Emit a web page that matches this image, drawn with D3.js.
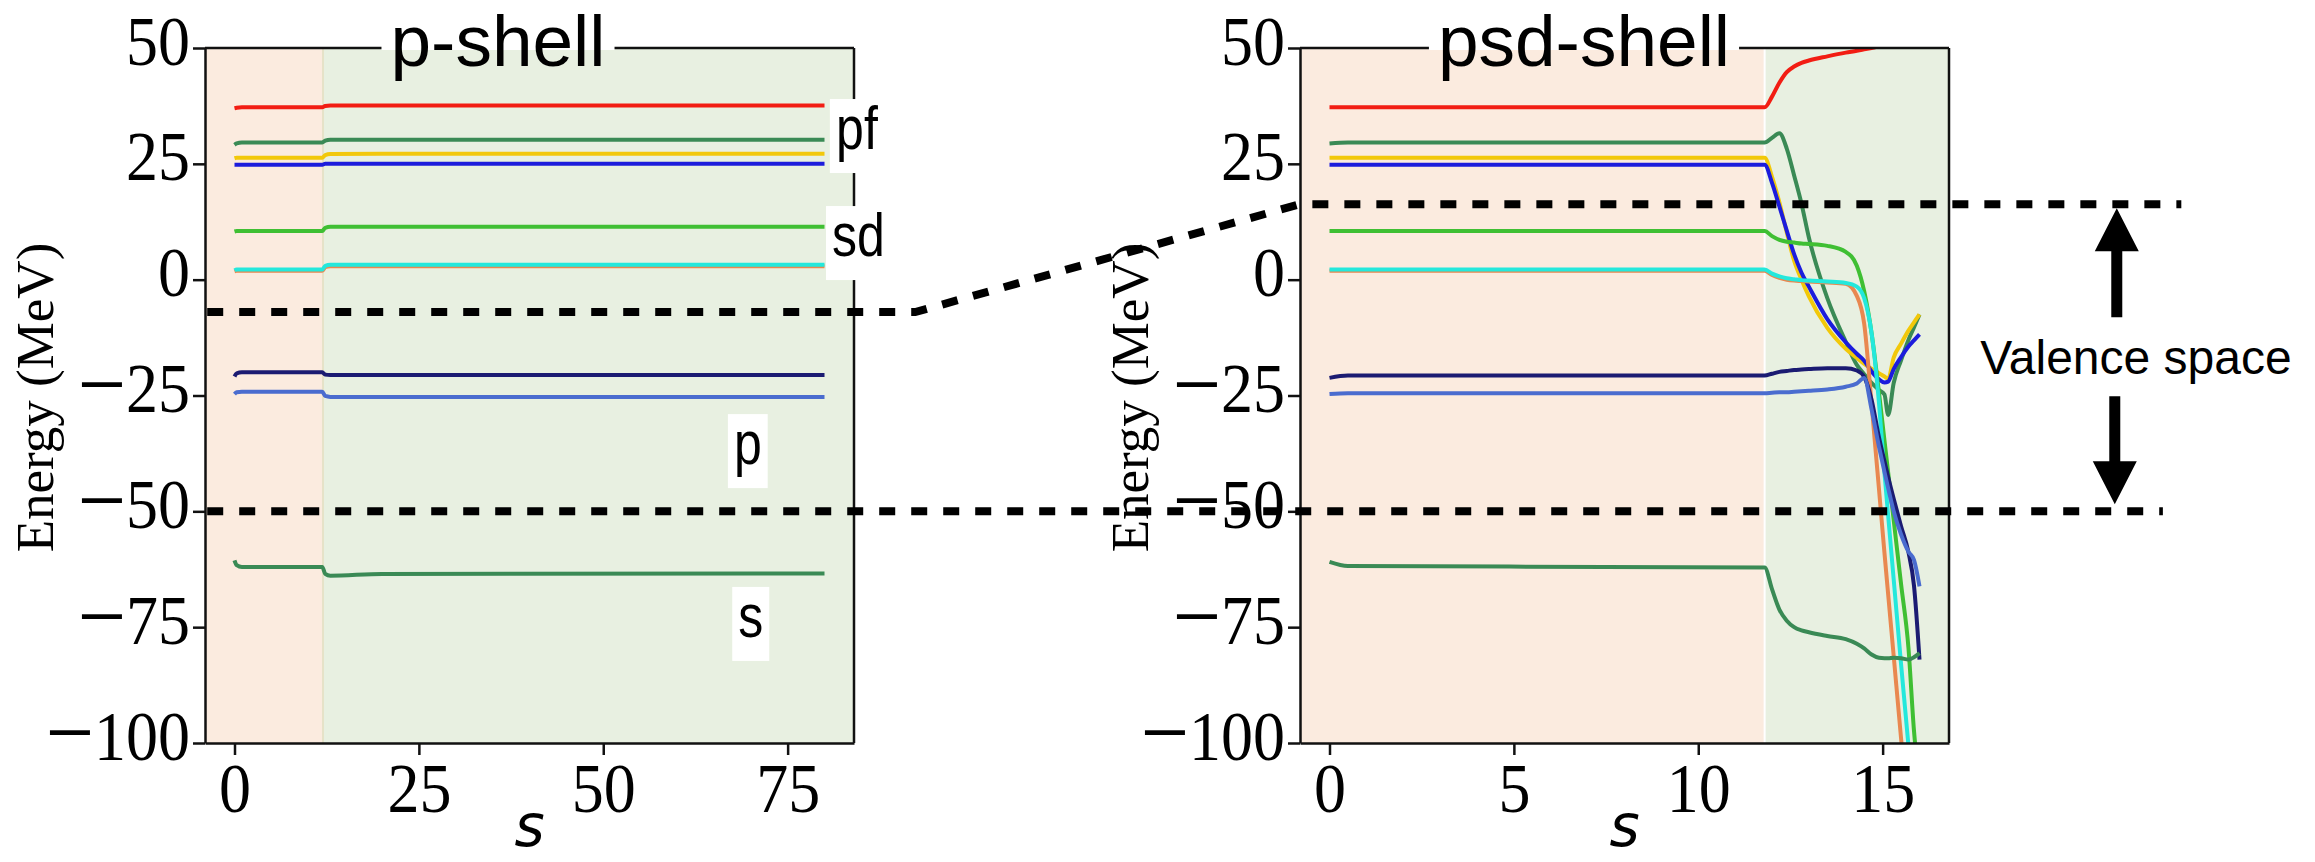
<!DOCTYPE html>
<html>
<head>
<meta charset="utf-8">
<script src="https://cdn.jsdelivr.net/npm/d3@7"></script>
<style>
  body { margin: 0; background: #fff; }
</style>
</head>
<body>
<svg id="chart" width="2315" height="862"></svg>
<script>
// ---- p-shell run: flow parameter s and single-particle energies (MeV)
var pS       = [0, 0.3, 1, 11.9, 12.3, 13, 20, 80];
var pRed     = [37.0, 37.1, 37.2, 37.2, 37.5, 37.6, 37.6, 37.6];
var pGreenHi = [29.1, 29.4, 29.6, 29.6, 30.0, 30.2, 30.2, 30.2];
var pGold    = [26.2, 26.3, 26.3, 26.3, 26.9, 27.1, 27.2, 27.2];
var pBlue    = [24.8, 24.8, 24.8, 24.8, 25.0, 25.0, 25.0, 25.0];
var pLime    = [10.4, 10.5, 10.5, 10.5, 11.2, 11.4, 11.4, 11.4];
var pOrange  = [1.8, 1.9, 1.9, 1.9, 2.7, 2.9, 2.9, 2.9];
var pCyan    = [2.0, 2.2, 2.2, 2.2, 3.0, 3.2, 3.2, 3.2];
var pNavy    = [-20.9, -20.2, -20.0, -20.0, -20.5, -20.6, -20.6, -20.6];
var pRoyal   = [-24.7, -24.3, -24.2, -24.2, -25.1, -25.3, -25.3, -25.3];
var pGreenLo = [-60.6, -61.6, -62.0, -62.0, -63.5, -63.9, -63.5, -63.4];

// ---- psd-shell run
var psdS       = [0, 0.5, 11.8, 12.0, 12.2, 12.4, 12.6, 12.8, 13.0, 13.5, 14.0, 14.3, 14.5, 14.7, 14.9, 15.05, 15.15, 15.3, 15.5, 15.7, 15.85, 16.0];
var psdRed     = [37.2, 37.2, 37.2, 39.5, 42.5, 44.8, 46.0, 46.8, 47.3, 48.2, 49.0, 49.4, 49.7, 50.0, 50.3, 50.5, 50.6, 50.8, 51.1, 51.3, 51.5, 51.7];
var psdGreenHi = [29.4, 29.6, 29.6, 30.6, 31.6, 28.3, 22.5, 16.4, 9.1, -4.0, -13.4, -18.4, -20.4, -22.3, -23.8, -24.8, -29.2, -22.3, -17.4, -13.0, -10.3, -7.5];
var psdGold    = [26.3, 26.3, 26.3, 22.2, 16.7, 10.2, 4.1, 0.0, -3.6, -10.4, -14.9, -16.9, -18.2, -19.2, -20.2, -20.9, -21.4, -16.8, -13.8, -11.0, -9.2, -7.5];
var psdBlue    = [24.8, 24.8, 24.8, 20.9, 15.8, 10.6, 5.5, 1.5, -1.5, -8.5, -13.5, -16.0, -17.5, -19.8, -21.5, -22.2, -22.0, -19.3, -16.7, -14.4, -13.1, -11.8];
var psdLime    = [10.5, 10.5, 10.5, 9.4, 8.6, 8.2, 8.0, 7.8, 7.7, 7.3, 6.0, 3.0, -2.5, -11.5, -24.3, -34.7, -41.6, -51.9, -65.7, -79.4, -97.3, -109];
var psdOrange  = [1.9, 1.9, 1.9, 1.0, 0.4, 0.0, -0.2, -0.3, -0.4, -0.6, -0.9, -3.5, -9.5, -26.8, -45.1, -59.0, -67.9, -81.2, -99.0, -116, -130, -143];
var psdCyan    = [2.2, 2.2, 2.2, 1.3, 0.7, 0.3, 0.1, -0.1, -0.2, -0.4, -0.7, -1.5, -4.0, -11.5, -26.5, -41.7, -50.9, -64.7, -83.0, -100.5, -114, -128];
var psdNavy    = [-21.2, -20.7, -20.7, -20.3, -19.9, -19.7, -19.5, -19.4, -19.3, -19.1, -19.1, -19.6, -21.0, -25.9, -34.0, -39.2, -42.6, -47.3, -53.2, -58.8, -66.0, -82.0];
var psdRoyal   = [-24.7, -24.5, -24.5, -24.4, -24.3, -24.3, -24.2, -24.1, -24.0, -23.7, -23.1, -22.4, -21.2, -28.0, -36.0, -41.5, -45.0, -50.0, -55.0, -58.7, -60.5, -66.2];
var psdGreenLo = [-60.9, -61.8, -62.1, -66.8, -71.2, -73.6, -75.0, -75.7, -76.1, -76.9, -77.6, -78.6, -79.6, -80.9, -81.6, -81.7, -81.7, -81.6, -81.7, -82.0, -81.5, -80.6];

// ticks and region splits
var energyTicks = [-100, -75, -50, -25, 0, 25, 50];
var pTicks = [0, 25, 50, 75];
var psdTicks = [0, 5, 10, 15];
var pSplit = 12.0;
var psdSplit = 11.8;

// valence-space cut energies
var cutHighP = -7.0;
var cutHighPsd = 16.3;
var cutLow = -50;

// shell labels on the p-shell panel: [text, s, energy]
var shellLabels = [["pf", 84.4, 31.0], ["sd", 84.6, 7.9], ["p", 69.6, -37.0], ["s", 70.0, -74.3]];

var lineColors = ["#f21d13", "#3a8a55", "#f2c80a", "#1c1cdc", "#3fbf33",
                  "#e98850", "#24e8dc", "#1b1b72", "#4a6ccf", "#3a8a55"];

var serif = "'Liberation Serif', 'Times New Roman', serif";
var sans = "'Liberation Sans', Arial, sans-serif";

var svg = d3.select("svg#chart");
var y = d3.scaleLinear().domain([-100, 50]).range([743, 48]);

function drawPanel(opt) {
  var x = d3.scaleLinear().domain(opt.domain).range([opt.left, opt.right]);
  var g = svg.append("g");

  svg.append("clipPath").attr("id", "clip-" + opt.id)
    .append("rect")
      .attr("x", opt.left).attr("y", y(50))
      .attr("width", opt.right - opt.left).attr("height", y(-100) - y(50));

  var plot = g.append("g").attr("clip-path", "url(#clip-" + opt.id + ")");

  plot.append("rect")
      .attr("x", x(opt.domain[0])).attr("y", y(50))
      .attr("width", x(opt.split) - x(opt.domain[0])).attr("height", y(-100) - y(50))
      .attr("fill", "#fbebdf");
  plot.append("rect")
      .attr("x", x(opt.split)).attr("y", y(50))
      .attr("width", x(opt.domain[1]) - x(opt.split)).attr("height", y(-100) - y(50))
      .attr("fill", "#e8f0e1");
  plot.append("line")
      .attr("x1", x(opt.split)).attr("x2", x(opt.split))
      .attr("y1", y(50)).attr("y2", y(-100))
      .attr("stroke", opt.splitColor).attr("stroke-width", 2);

  var line = d3.line()
      .x(function(d) { return x(d[0]); })
      .y(function(d) { return y(d[1]); })
      .curve(d3.curveMonotoneX);

  opt.series.forEach(function(vals, i) {
    plot.append("path")
        .datum(opt.s.map(function(s, j) { return [s, vals[j]]; }))
        .attr("fill", "none")
        .attr("stroke", lineColors[i])
        .attr("stroke-width", 4)
        .attr("stroke-linejoin", "round")
        .attr("d", line);
  });

  // axes
  var xAxis = g.append("g")
      .attr("transform", "translate(0," + y(-100) + ")")
      .call(d3.axisBottom(x).tickValues(opt.ticks).tickSize(12).tickSizeOuter(0));
  var yAxis = g.append("g")
      .attr("transform", "translate(" + opt.left + ",0)")
      .call(d3.axisLeft(y).tickValues(energyTicks).tickSize(12).tickSizeOuter(0));

  [xAxis, yAxis].forEach(function(a) {
    a.select(".domain").attr("stroke", "#111").attr("stroke-width", 2.5);
    a.selectAll(".tick line").attr("stroke", "#111").attr("stroke-width", 2.5);
    a.selectAll(".tick text")
        .attr("fill", "#000")
        .style("font-family", serif)
        .style("font-size", "64px");
  });
  // tall, narrow tick numbers as in the original figure
  xAxis.selectAll(".tick text")
      .attr("y", null).attr("dy", null)
      .attr("transform", "translate(0,69) scale(1,1.1)");
  yAxis.selectAll(".tick text")
      .attr("x", null).attr("dy", null)
      .attr("transform", "translate(-15,16) scale(1,1.1)")
      .each(function(d) {
        var t = d3.select(this).text(null);
        if (d < 0) {
          // long thin minus sign, lowered to the middle of the digits
          t.append("tspan").style("font-size", "86px").attr("dy", 4).text("\u2212");
          t.append("tspan").attr("dy", -4).text(Math.abs(d));
        } else {
          t.append("tspan").text(d);
        }
      });

  // top and right spines
  g.append("line")
      .attr("x1", opt.left).attr("x2", opt.right).attr("y1", y(50)).attr("y2", y(50))
      .attr("stroke", "#111").attr("stroke-width", 2.5);
  g.append("line")
      .attr("x1", opt.right).attr("x2", opt.right).attr("y1", y(50)).attr("y2", y(-100))
      .attr("stroke", "#111").attr("stroke-width", 2.5);

  // axis titles
  g.append("text")
      .attr("transform", "translate(" + (opt.left - 152) + "," + ((y(50) + y(-100)) / 2 + 2) + ") rotate(-90)")
      .attr("text-anchor", "middle")
      .style("font-family", serif)
      .style("font-size", "53px")
      .text("Energy (MeV)");
  g.append("text")
      .attr("x", (opt.left + opt.right) / 2).attr("y", 846)
      .attr("text-anchor", "middle")
      .style("font-family", "'DejaVu Sans', sans-serif")
      .style("font-style", "italic")
      .style("font-size", "58px")
      .text("s");

  // title with white box breaking the top spine
  var tbox = g.append("rect").attr("fill", "#fff");
  var title = g.append("text")
      .attr("x", opt.titleX).attr("y", 66)
      .attr("text-anchor", "middle")
      .style("font-family", sans)
      .style("font-size", "73px")
      .text(opt.title);
  var bb = title.node().getBBox();
  tbox.attr("x", bb.x - 9).attr("y", 0).attr("width", bb.width + 18).attr("height", y(50) + 2);

  return x;
}

var xP = drawPanel({
  id: "p", left: 205, right: 854, domain: [-4, 84], ticks: pTicks,
  split: pSplit, splitColor: "#e6e2c8", s: pS, title: "p-shell", titleX: 498,
  series: [pRed, pGreenHi, pGold, pBlue, pLime, pOrange, pCyan, pNavy, pRoyal, pGreenLo]
});

var xPsd = drawPanel({
  id: "psd", left: 1300, right: 1949, domain: [-0.8, 16.8], ticks: psdTicks,
  split: psdSplit, splitColor: "#ffffff", s: psdS, title: "psd-shell", titleX: 1584,
  series: [psdRed, psdGreenHi, psdGold, psdBlue, psdLime, psdOrange, psdCyan, psdNavy, psdRoyal, psdGreenLo]
});

// shell labels with white boxes
shellLabels.forEach(function(d) {
  var cx = xP(d[1]), cy = y(d[2]);
  var lg = svg.append("g");
  var r = lg.append("rect").attr("fill", "#fff");
  var t = lg.append("text")
      .attr("transform", "translate(" + cx + "," + (cy + 13) + ") scale(1,1.22)")
      .attr("text-anchor", "middle")
      .style("font-family", sans)
      .style("font-size", "50px")
      .text(d[0]);
  var w = t.node().getBBox().width + 12;
  r.attr("x", cx - w / 2).attr("y", cy - 37).attr("width", w).attr("height", 74);
});

// valence space cuts (dashed)
var dashes = svg.append("g")
    .attr("fill", "none")
    .attr("stroke", "#000")
    .attr("stroke-width", 8)
    .attr("stroke-dasharray", "16,16");

dashes.append("path")
    .attr("d", d3.line()([
      [xP(-3.7), y(cutHighP)], [xP(92.3), y(cutHighP)],
      [xPsd(-0.8), y(cutHighPsd)], [xPsd(23.1), y(cutHighPsd)]
    ]));
dashes.append("path")
    .attr("d", d3.line()([[xP(-3.7), y(cutLow)], [xPsd(22.6), y(cutLow)]]));

// arrows marking the valence space
var ax = xPsd(21.35);
var up = [[ax, y(cutHighPsd) + 4], [ax + 22, y(cutHighPsd) + 47], [ax + 5.5, y(cutHighPsd) + 47],
          [ax + 5.5, y(cutHighPsd) + 113], [ax - 5.5, y(cutHighPsd) + 113], [ax - 5.5, y(cutHighPsd) + 47],
          [ax - 22, y(cutHighPsd) + 47]];
var dx = ax - 2;
var down = [[dx, y(cutLow) - 7], [dx + 22, y(cutLow) - 50], [dx + 5.5, y(cutLow) - 50],
            [dx + 5.5, y(cutLow) - 115], [dx - 5.5, y(cutLow) - 115], [dx - 5.5, y(cutLow) - 50],
            [dx - 22, y(cutLow) - 50]];
svg.append("path").attr("d", d3.line()(up) + "Z").attr("fill", "#000");
svg.append("path").attr("d", d3.line()(down) + "Z").attr("fill", "#000");

svg.append("text")
    .attr("x", 2136).attr("y", 374)
    .attr("text-anchor", "middle")
    .style("font-family", sans)
    .style("font-size", "48px")
    .text("Valence space");
</script>
</body>
</html>
